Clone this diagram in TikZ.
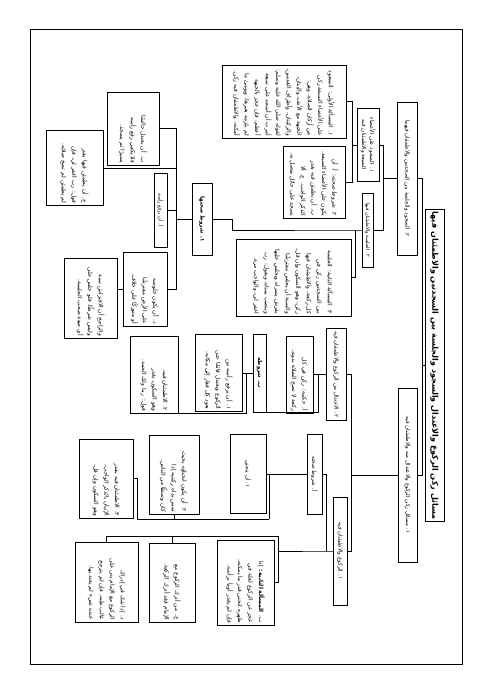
\documentclass[tikz,border=0pt]{standalone}
\usepackage{fontspec}
\newfontfamily\arabicfont[Script=Arabic]{DejaVu Sans}
\TeXXeTstate=1
\newcommand{\artxt}[1]{\beginR #1\endR}

\begin{document}
\begin{tikzpicture}[x=1pt, y=-1pt,
      ttl/.style={draw, line width=1pt, rotate=-90, inner sep=2pt, align=center,
                  font=\arabicfont\bfseries\fontsize{8}{10}\selectfont},
      sec/.style={draw, line width=0.9pt, rotate=-90, inner sep=1.5pt, align=center,
                  font=\arabicfont\fontsize{5.5}{8}\selectfont},
      para/.style={draw, line width=0.9pt, rotate=-90, inner sep=2pt, align=right,
                  font=\arabicfont\fontsize{5.8}{10.5}\selectfont},
      conn/.style={line width=0.9pt}]
    \useasboundingbox (0,0) rectangle (491,694);
    \draw[line width=1pt] (30,29) rectangle (462,664);

    % top of the tree
    \node[ttl, minimum width=305pt, minimum height=19pt] (rt) at (434.5,365.5)
      {\artxt{مسائل ركن الركوع والاعتدال والسجود والجلسة بين السجدتين والاطمئنان فيها}};
    \node[sec, minimum width=153pt, minimum height=20pt] (sj) at (407,178.5)
      {\artxt{٢. السجود والجلسة بين السجدتين والاطمئنان فيهما}};
    \node[sec, minimum width=174pt, minimum height=19pt] (rk) at (407.5,475)
      {\artxt{١. مسائل ركن الركوع والاعتدال منه والاطمئنان فيه}};

    % sujud branch
    \node[sec, text width=70pt, minimum height=22pt] (sa) at (368,145)
      {\artxt{١. السجود على الأعضاء السبعة والاطمئنان فيه}};
    \node[sec, font=\arabicfont\fontsize{5}{6}\selectfont, minimum width=74pt,
          minimum height=11pt, inner sep=0.5pt] (sb) at (367.5,230)
      {\artxt{٢. الجلسة والاطمئنان فيها}};
    \node[para, text width=69pt, minimum height=124pt] (sa1) at (284,101.5)
      {\artxt{١. المسألة الأولى: السجود على الأعضاء السبعة ركن من أركان الصلاة، وهي: الجبهة مع الأنف، واليدان، والركبتان، وأطراف القدمين، لقوله صلى الله عليه وسلم: أمرت أن أسجد على سبعة أعظم، فإن عجز بالجبهة لم يلزمه بغيرها، ويومئ ما أمكنه، والاطمئنان فيه ركن.}};
    \node[para, text width=68pt, minimum height=62pt] (sa2) at (314,182)
      {\artxt{٢. شروط صحته: أ. أن يكون على الأعضاء السبعة. ب. أن يطمئن فيه بقدر الذكر الواجب. ج. ألا يسجد على حائل متصل به.}};
    \node[para, text width=73pt, minimum height=115pt] (sb2) at (293.5,277.5)
      {\artxt{٣. المسألة الثانية: الجلسة بين السجدتين ركن في كل ركعة، والاطمئنان فيها ركن، وهو السكون وإن قل، والسنة أن يجلس مفترشًا يفرش يسراه ويجلس عليها وينصب يمناه، ويقول: رب اغفر لي، والواجب مرة.}};
    \node[sec, font=\arabicfont\bfseries\fontsize{5.5}{8}\selectfont, minimum width=72pt,
          minimum height=20pt] (sb1) at (202,219)
      {\artxt{١. شروط صحتها}};
    \node[para, text width=69pt, minimum height=52pt] (f1) at (133,128.5)
      {\artxt{ب. أن يعتدل جالسًا فلا يكفي رفع رأسه يسيرًا ثم يسجد.}};
    \node[para, text width=71pt, minimum height=57pt] (f2) at (74.5,168)
      {\artxt{ج. أن يطمئن فيها بقدر قول: رب اغفر لي، فإن لم يطمئن لم تصح صلاته.}};
    \node[sec, font=\arabicfont\fontsize{5}{6}\selectfont, minimum width=74pt,
          minimum height=13pt, inner sep=0.5pt] (f3) at (160.5,210)
      {\artxt{أ. أن يرفع رأسه}};
    \node[para, text width=70pt, minimum height=44pt] (f4) at (145,289)
      {\artxt{د. أن يكون جلوسه على الأرض مفترشًا أو متوركًا على خلاف.}};
    \node[para, text width=76pt, minimum height=53pt] (f41) at (90.5,298)
      {\artxt{والراجح أن الافتراش سنة وليس شرطًا، فلو جلس على أي صفة صحت الجلسة.}};

    % ruku branch
    \node[sec, text width=89pt, minimum height=20pt] (kb) at (336,374.5)
      {\artxt{٢. الاعتدال من الركوع والاطمئنان فيه}};
    \node[para, text width=73pt, minimum height=27pt] (kb1) at (299.5,374.5)
      {\artxt{أ. حكمه: ركن في كل ركعة لا تصح الصلاة بدونه.}};
    \node[sec, font=\arabicfont\bfseries\fontsize{5.5}{8}\selectfont, minimum width=78pt,
          minimum height=13pt, inner sep=0.5pt] (kb2) at (259.5,373)
      {\artxt{ب. شروطه}};
    \node[para, text width=73pt, minimum height=47pt] (kb21) at (218.5,373)
      {\artxt{١. أن يرفع رأسه من الركوع ويعتدل قائمًا حتى يعود كل فقار إلى مكانه.}};
    \node[para, text width=73pt, minimum height=48pt] (kb22) at (154,374.5)
      {\artxt{٢. الاطمئنان فيه، وهو السكون بقدر قول: ربنا ولك الحمد.}};
    \node[sec, minimum width=108pt, minimum height=14pt, inner sep=0.5pt] (ka) at (340,551)
      {\artxt{١. الركوع والاطمئنان فيه}};
    \node[sec, minimum width=80pt, minimum height=15pt, inner sep=0.5pt] (ka1) at (314.5,474)
      {\artxt{أ. شروط صحته}};
    \node[sec, minimum width=79pt, minimum height=36pt] (a11) at (248,474)
      {\artxt{١. أن ينحني}};
    \node[para, text width=75pt, minimum height=50pt] (a12) at (174,474.5)
      {\artxt{٢. أن يكون انحناؤه بحيث تمس يداه ركبتيه إذا كان وسطًا من الناس.}};
    \node[para, text width=75pt, minimum height=54pt] (a13) at (106,478.5)
      {\artxt{٣. الاطمئنان فيه بقدر الإتيان بالذكر الواجب، وهو السكون وإن قل.}};
    \node[para, text width=81pt, minimum height=57pt] (ka2) at (245.5,582.5)
      {\artxt{ب. {\bfseries المسألة الثانية:} إذا عجز عن الركوع لعلة في ظهره انحنى قدر ما يمكنه، فإن لم يقدر أومأ برأسه.}};
    \node[para, text width=75pt, minimum height=46pt] (ka3) at (172,582.5)
      {\artxt{ج. من أدرك الركوع مع الإمام فقد أدرك الركعة.}};
    \node[para, text width=76pt, minimum height=63pt] (ka4) at (106.5,582)
      {\artxt{د. إذا شك في إدراك الركوع مع الإمام بنى على غالب ظنه، فإن لم يترجح عنده شيء لم يعتد بها.}};

    % connectors
    \draw[conn] (rt.south) -- (422,365.5) coordinate (jr);
    \draw[conn] (jr) |- (sj.north);
    \draw[conn] (jr) |- (rk.north);
    \draw[conn] (sj.south) -- (383,178.5) coordinate (js);
    \draw[conn] (js) |- (sa.north);
    \draw[conn] (js) |- (sb.north);
    \draw[conn] (sa.south) -- (352,145) coordinate (jsa);
    \draw[conn] (jsa) |- (sa1.north);
    \draw[conn] (jsa) |- (sa2.north);
    \draw[conn] (sb.south) -- (355,230) coordinate (jsb) -- (232,230) coordinate (jsf);
    \draw[conn] (jsb) |- (sb2.north);
    \draw[conn] (jsf) |- (sb1.north);
    \draw[conn] (sb1.south) -- (176,219) coordinate (jf);
    \foreach \n in {f1,f2,f3,f4}
      {\draw[conn] (jf) |- (\n.north);}
    \draw[conn] (f4.south) -- (f4.south -| f41.north);
    \draw[conn] (rk.south) -- (351,475) coordinate (jk);
    \draw[conn] (jk) |- (kb.north);
    \draw[conn] (jk) |- (ka.north);
    \draw[conn] (kb.south) -- (318,374.5) coordinate (jl);
    \draw[conn] (jl) -- (kb1.north);
    \draw[conn] (jl) |- (kb2.north east);
    \draw[conn] (kb2.south) -- (246,373) coordinate (jo);
    \draw[conn] (jo) -- (kb21.north);
    \draw[conn] (jo) |- (kb22.north east);
    \draw[conn] (ka.south) -- (326,551) coordinate (jm1) -- (278,551) coordinate (jm);
    \draw[conn] (jm1) |- (ka1.north);
    \draw[conn] (jm) |- (ka2.north);
    \draw[conn] (jm) -- (278,536) coordinate (bm);
    \draw[conn] (bm) -| (ka3.west);
    \draw[conn] (bm) -| (ka4.west);
    \draw[conn] (ka1.south) -- (269,474) coordinate (ju);
    \draw[conn] (ju) -- (a11.north);
    \draw[conn] (ju) -- (269,519) coordinate (bu);
    \draw[conn] (bu) -| (a12.east);
    \draw[conn] (bu) -- (137,519) coordinate (bv);
    \draw[conn] (bv) |- (a13.north);
\end{tikzpicture}
\end{document}
